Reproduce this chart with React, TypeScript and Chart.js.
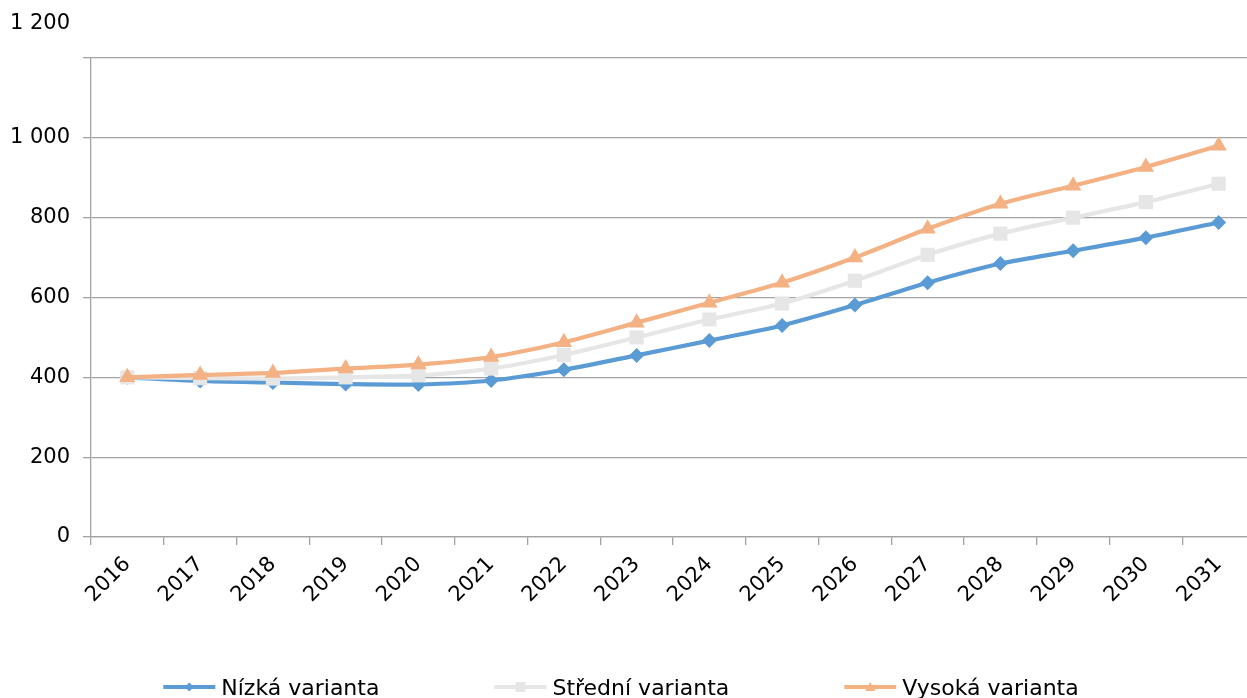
import React, { useEffect, useRef } from 'react';
import { Chart, registerables } from 'chart.js';

Chart.register(...registerables);

const categories = ['2016', '2017', '2018', '2019', '2020', '2021', '2022', '2023', '2024', '2025', '2026', '2027', '2028', '2029', '2030', '2031'];
const nizka = [400, 391, 387, 383, 382, 392, 419, 455, 492, 530, 581, 637, 685, 717, 750, 788];
const stredni = [400, 398, 397, 400, 405, 422, 456, 500, 545, 585, 642, 707, 760, 800, 839, 885];
const vysoka = [400, 406, 411, 422, 432, 451, 488, 537, 587, 637, 700, 772, 835, 880, 927, 980];
const seriesLabels = ['Nízká varianta', 'Střední varianta', 'Vysoká varianta'];
const seriesColors = ['#5B9BD5', '#E6E6E6', '#F4B183'];
const seriesMarkers = ['rectRot', 'rect', 'triangle'];
const yTicks = [0, 200, 400, 600, 800, 1000, 1200];

const FONT = "'DejaVu Sans', Verdana, sans-serif";
const GRID = '#A3A3A3';
const FS = 21;

function fmt(v: number): string {
  return String(v).replace(/\B(?=(\d{3})+(?!\d))/g, ' ');
}

function drawMarker(ctx: CanvasRenderingContext2D, kind: string, x: number, y: number, s: number, color: string) {
  ctx.fillStyle = color;
  ctx.beginPath();
  if (kind === 'rectRot') {
    ctx.moveTo(x - s, y);
    ctx.lineTo(x, y - s);
    ctx.lineTo(x + s, y);
    ctx.lineTo(x, y + s);
  } else if (kind === 'rect') {
    ctx.rect(x - s, y - s, 2 * s, 2 * s);
  } else {
    ctx.moveTo(x, y - s);
    ctx.lineTo(x + s, y + s * 0.8);
    ctx.lineTo(x - s, y + s * 0.8);
  }
  ctx.closePath();
  ctx.fill();
}

const excelLegend = {
  id: 'excelLegend',
  afterDraw(chart: any) {
    const ctx: CanvasRenderingContext2D = chart.ctx;
    const ds = chart.data.datasets;
    ctx.save();
    ctx.font = `22px ${FONT}`;
    const sampleW = 52;
    const gapText = 6;
    const gapItems = 115;
    const widths = ds.map((d: any) => sampleW + gapText + ctx.measureText(d.label).width);
    const total = widths.reduce((a: number, b: number) => a + b, 0) + gapItems * (ds.length - 1);
    let x = 621 - total / 2;
    const y = 687;
    ds.forEach((d: any, i: number) => {
      ctx.strokeStyle = d.borderColor;
      ctx.lineWidth = 4;
      ctx.beginPath();
      ctx.moveTo(x, y);
      ctx.lineTo(x + sampleW, y);
      ctx.stroke();
      drawMarker(ctx, seriesMarkers[i], x + sampleW / 2, y, i === 0 ? 4.5 : 5, d.borderColor);
      ctx.fillStyle = '#000';
      ctx.textAlign = 'left';
      ctx.textBaseline = 'middle';
      ctx.fillText(d.label, x + sampleW + gapText, y + 2);
      x += widths[i] + gapItems;
    });
    ctx.restore();
  },
};

const topTickLabel = {
  id: 'topTickLabel',
  afterDraw(chart: any) {
    const sc = chart.scales.y;
    const ctx: CanvasRenderingContext2D = chart.ctx;
    ctx.save();
    ctx.font = `${FS}px ${FONT}`;
    ctx.fillStyle = '#000';
    ctx.textAlign = 'right';
    ctx.textBaseline = 'middle';
    const top = yTicks[yTicks.length - 1];
    ctx.fillText(fmt(top), sc.right - 21, sc.getPixelForValue(top) - 34);
    ctx.restore();
  },
};

export default function App() {
  const ref = useRef<HTMLCanvasElement | null>(null);

  useEffect(() => {
    document.body.style.margin = '0';
    const canvas = ref.current;
    if (!canvas) return;
    const values = [nizka, stredni, vysoka];
    const chart = new Chart(canvas, {
      type: 'line',
      data: {
        labels: categories,
        datasets: values.map((v, i) => ({
          label: seriesLabels[i],
          data: v,
          borderColor: seriesColors[i],
          backgroundColor: seriesColors[i],
          pointBackgroundColor: seriesColors[i],
          pointBorderColor: seriesColors[i],
          pointBorderWidth: 0,
          borderWidth: 4.2,
          pointStyle: seriesMarkers[i] as any,
          pointRadius: i === 0 ? 7.5 : i === 1 ? 10 : 9.5,
          tension: 0.25,
          fill: false,
          order: 3 - i,
        })),
      },
      options: {
        responsive: false,
        animation: false,
        layout: { padding: { top: 58, bottom: 61, left: 0, right: 0 } },
        plugins: {
          legend: { display: false },
          tooltip: { enabled: false },
        },
        scales: {
          x: {
            offset: true,
            grid: {
              display: true,
              drawOnChartArea: false,
              offset: true,
              tickLength: 8,
              color: GRID,
              lineWidth: 1.3,
            },
            border: { color: GRID, width: 1.3 },
            ticks: {
              autoSkip: false,
              maxRotation: 45,
              minRotation: 45,
              padding: 7,
              color: '#000',
              font: { family: FONT, size: FS },
            },
            afterFit: (s: any) => {
              s.height = 100;
            },
          },
          y: {
            min: 0,
            max: 1200,
            afterBuildTicks: (s: any) => {
              s.ticks = yTicks.map((v) => ({ value: v }));
            },
            grid: { color: GRID, tickLength: 8, lineWidth: 1.3 },
            border: { color: GRID, width: 1.3 },
            ticks: {
              padding: 13,
              color: '#000',
              font: { family: FONT, size: FS },
              callback: (v: any) => (Number(v) === yTicks[yTicks.length - 1] ? '' : fmt(Number(v))),
            },
            afterFit: (s: any) => {
              s.width = 91;
            },
          },
        },
      },
      plugins: [excelLegend, topTickLabel],
    });
    return () => chart.destroy();
  }, []);

  return (
    <div style={{ width: 1247, height: 698, overflow: 'hidden', position: 'relative', background: '#fff' }}>
      <canvas ref={ref} width={1265} height={698} style={{ display: 'block' }} />
    </div>
  );
}
